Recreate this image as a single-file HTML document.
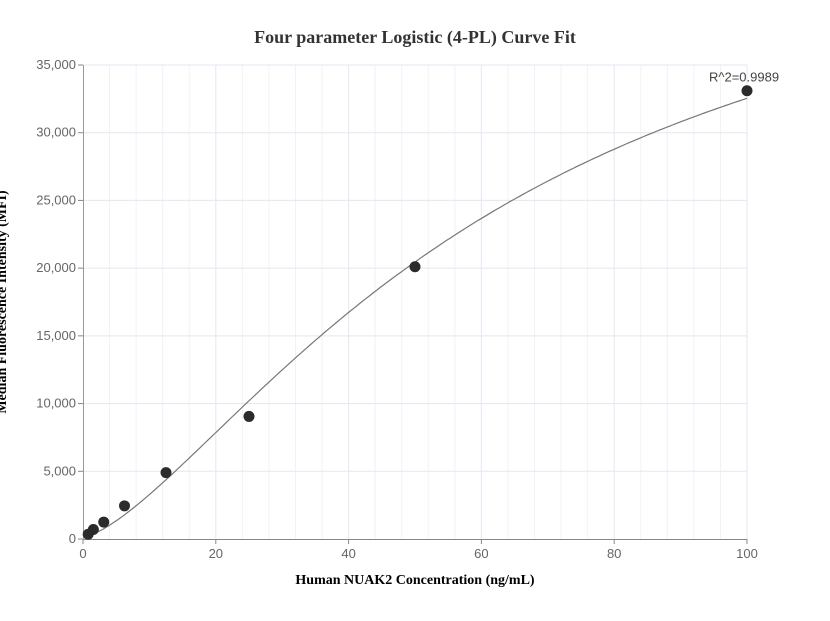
<!DOCTYPE html>
<html><head><meta charset="utf-8"><style>
body{margin:0;background:#fff;}
svg{font-family:"Liberation Sans",sans-serif;}
</style></head><body>
<svg id="c" width="830" height="616">
<text x="415" y="43" text-anchor="middle" font-family="Liberation Serif" font-weight="bold" font-size="18" fill="#333">Four parameter Logistic (4-PL) Curve Fit</text>
<text x="415" y="584" text-anchor="middle" font-family="Liberation Serif" font-weight="bold" font-size="14" fill="#000">Human NUAK2 Concentration (ng/mL)</text>
<text transform="translate(6,302) rotate(-90)" text-anchor="middle" font-family="Liberation Serif" font-weight="bold" font-size="14" fill="#000">Median Fluorescence Intensity (MFI)</text>
<g id="grid"></g><g id="axes"></g><g id="marks"></g>
</svg>
<script>
const xConc=[0.78,1.56,3.125,6.25,12.5,25,50,100];
const yMFI=[350,700,1250,2450,4900,9050,20100,33100];
const xTicks=[0,20,40,60,80,100];
const yTicks=[0,5000,10000,15000,20000,25000,30000,35000];
const fitParams=[150,1.45,64,49500]; // a,b,c,d
const rLabel="R^2=0.9989";
const X=v=>83+v*6.64, Y=v=>539-v*(474/35000);
const NS="http://www.w3.org/2000/svg";
function mk(t,a,p){const e=document.createElementNS(NS,t);for(const k in a)e.setAttribute(k,a[k]);p.appendChild(e);return e;}
const g=document.getElementById('grid'),ax=document.getElementById('axes'),m=document.getElementById('marks');
for(let v=4;v<=100;v+=4){const l=mk('line',{x1:X(v),x2:X(v),y1:65,y2:539,stroke:v%20==0?'#e3e7f0':'#f0f2f7','stroke-width':1},g);

}
for(let v=5000;v<=35000;v+=5000){const l=mk('line',{x1:83,x2:747,y1:Y(v),y2:Y(v),stroke:'#e3e7f0','stroke-width':1},g);

}
const xa=mk('line',{x1:83,x2:747,y1:539.5,y2:539.5,stroke:'#888'},ax);


const ya=mk('line',{x1:83.5,x2:83.5,y1:65,y2:539,stroke:'#999'},ax);


xTicks.forEach(v=>{mk('line',{x1:X(v),x2:X(v),y1:539,y2:544,stroke:'#888'},ax);
const t=mk('text',{x:X(v),y:558,'text-anchor':'middle','font-size':13,fill:'#666'},ax);t.textContent=v;

});
yTicks.forEach(v=>{mk('line',{x1:78,x2:83,y1:Y(v),y2:Y(v),stroke:'#888'},ax);
const t=mk('text',{x:76,y:Y(v)+4,'text-anchor':'end','font-size':13,fill:'#666'},ax);t.textContent=v.toLocaleString('en-US');

});
const [a,b,c,d]=fitParams;const f=x=>d+(a-d)/(1+Math.pow(x/c,b));
let pts=[];for(let x=0.78;x<=100.001;x+=0.5)pts.push(X(x).toFixed(1)+','+Y(f(x)).toFixed(1));
pts.push(X(100)+','+Y(f(100)).toFixed(1));
const pl=mk('polyline',{points:pts.join(' '),fill:'none',stroke:'#777','stroke-width':1.2},m);


xConc.forEach((x,i)=>{const p=mk('circle',{cx:X(x),cy:Y(yMFI[i]),r:5.5,fill:'#2b2b2b'},m);

});
const r=mk('text',{x:X(100)-38,y:Y(yMFI[7])-9,'font-size':13,fill:'#444'},m);r.textContent=rLabel;


</script>
</body></html>
